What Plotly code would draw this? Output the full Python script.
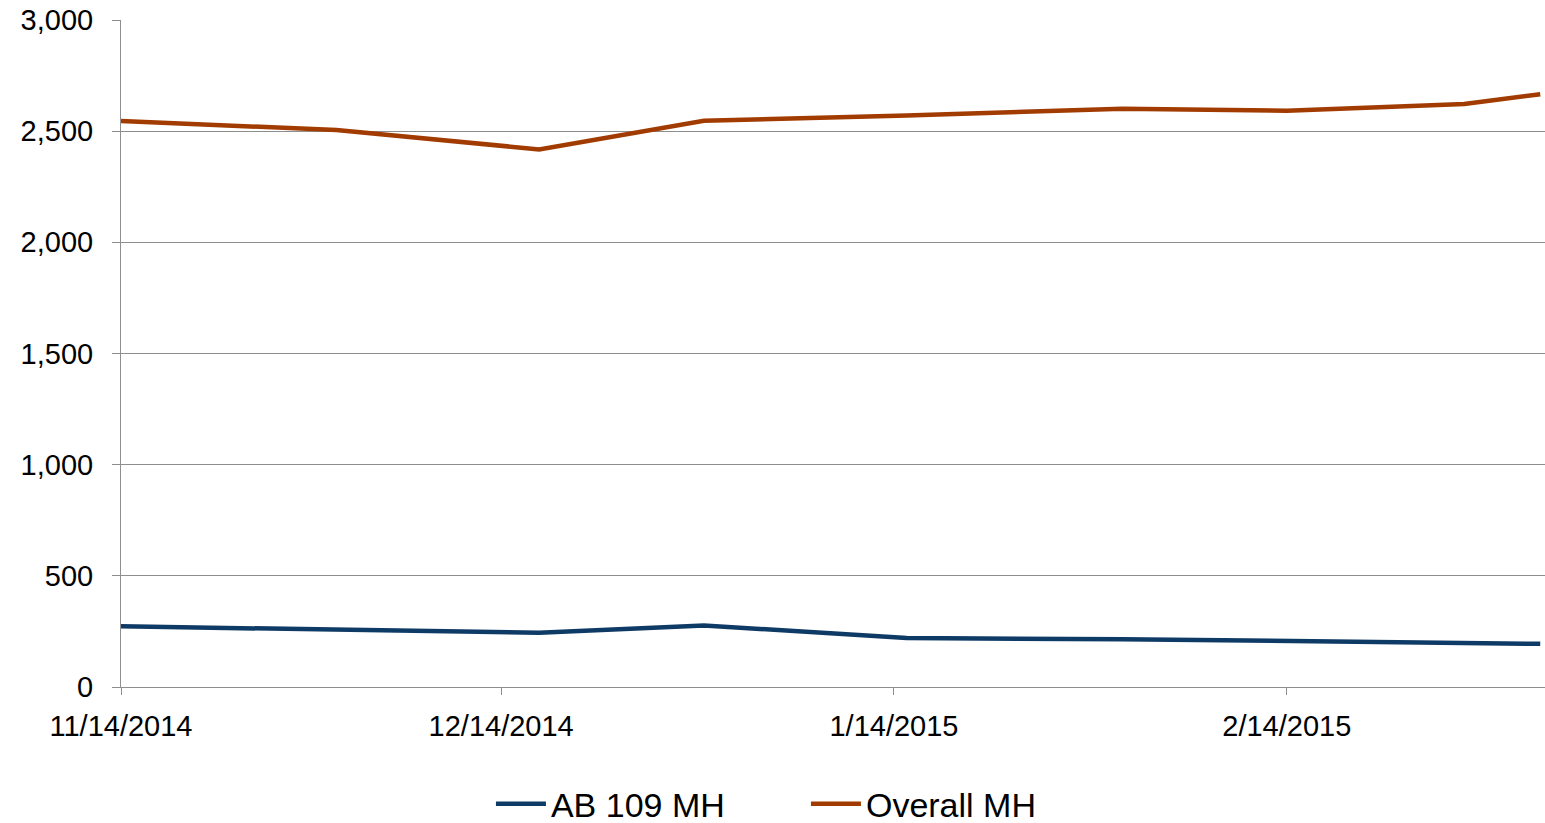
import plotly.graph_objects as go

dates = ["2014-11-14", "2014-12-01", "2014-12-17", "2014-12-30", "2015-01-15",
         "2015-02-01", "2015-02-14", "2015-02-28", "2015-03-06"]
ab109_mh = [273, 259, 244, 277, 220, 215, 207, 199, 194]
overall_mh = [2546, 2505, 2418, 2547, 2570, 2601, 2592, 2622, 2666]
x_tick_vals = ["2014-11-14", "2014-12-14", "2015-01-14", "2015-02-14"]
x_tick_text = ["11/14/2014", "12/14/2014", "1/14/2015", "2/14/2015"]

BLUE = "#0E3A66"
ORANGE = "#A13B00"
GRID = "#8E8E8E"
FONT = "Liberation Sans, Arial, sans-serif"

fig = go.Figure()
fig.add_trace(go.Scatter(x=dates, y=ab109_mh, name="AB 109 MH", mode="lines",
                         line=dict(color=BLUE, width=4.5)))
fig.add_trace(go.Scatter(x=dates, y=overall_mh, name="Overall MH", mode="lines",
                         line=dict(color=ORANGE, width=4.5)))

fig.update_layout(
    width=1545, height=823,
    margin=dict(l=121, r=0, t=20, b=136, autoexpand=False),
    paper_bgcolor="white", plot_bgcolor="white",
    font=dict(family=FONT, color="black", size=29),
    showlegend=True,
    legend=dict(orientation="h", x=0.481, xanchor="center",
                yref="container", y=0.023, yanchor="middle",
                font=dict(size=34, family=FONT, color="black"),
                itemwidth=50, entrywidth=250, entrywidthmode="pixels",
                tracegroupgap=0, bgcolor="rgba(0,0,0,0)"),
    xaxis=dict(
        type="date",
        range=["2014-11-14", "2015-03-06 09:00"],
        tickvals=x_tick_vals, ticktext=x_tick_text,
        ticks="outside", ticklen=7, tickcolor=GRID, tickwidth=1,
        showgrid=False, showline=True, linecolor=GRID, linewidth=1,
        tickfont=dict(size=29, family=FONT, color="black"),
        ticklabelstandoff=6, zeroline=False,
    ),
    yaxis=dict(
        range=[0, 3000], dtick=500, tickformat=",",
        ticks="outside", ticklen=8, tickcolor=GRID, tickwidth=1,
        showgrid=True, gridcolor=GRID, gridwidth=1,
        showline=True, linecolor=GRID, linewidth=1,
        tickfont=dict(size=29, family=FONT, color="black"),
        ticklabelstandoff=13, zeroline=False,
    ),
)

fig.write_html("out.html", config={"displayModeBar": False},
               post_script="document.body.style.margin='0';document.body.style.overflow='hidden';")
